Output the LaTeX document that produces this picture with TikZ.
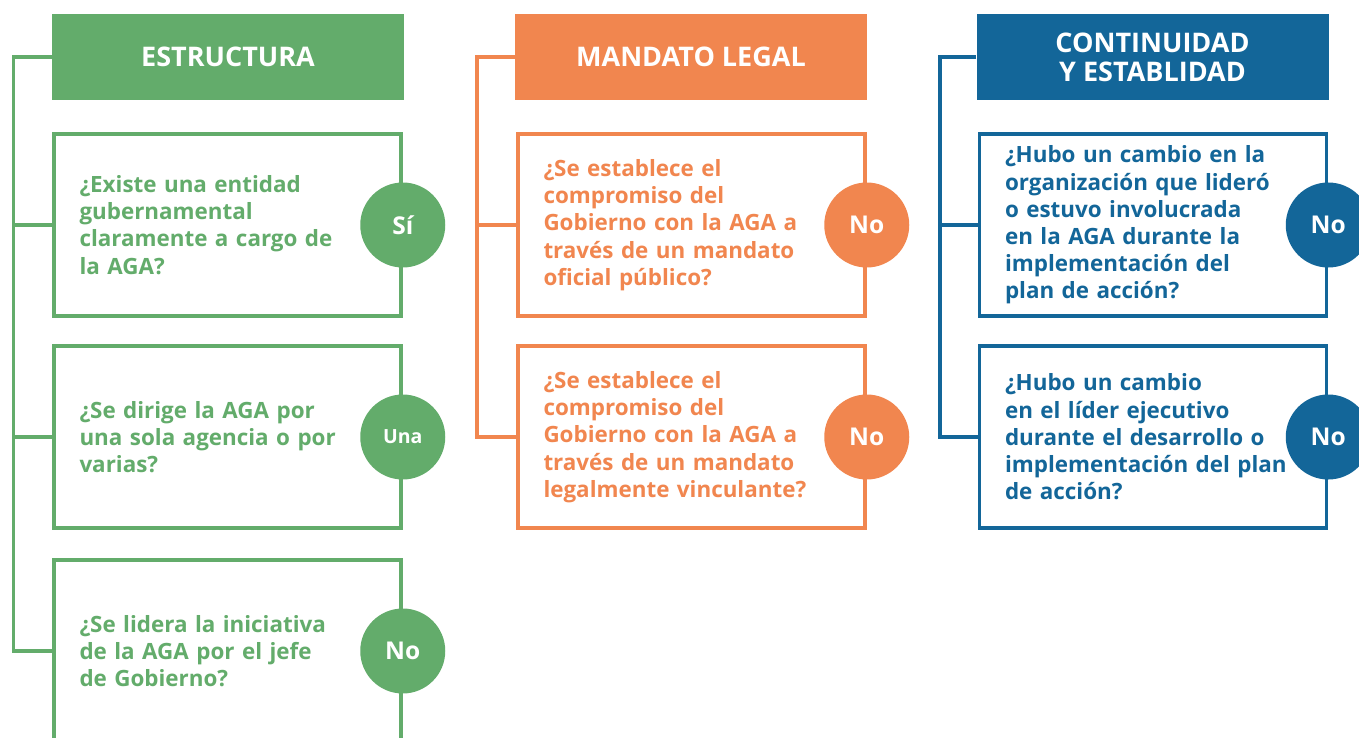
\documentclass[tikz,border=0pt]{standalone}
\usepackage{fontspec}
\setmainfont{Open Sans}
\usetikzlibrary{positioning}
\definecolor{aggreen}{RGB}{99,172,107}
\definecolor{agorange}{RGB}{241,134,79}
\definecolor{agblue}{RGB}{19,102,153}
\tikzset{%
  head/.style={fill=#1, text=white, minimum width=352, minimum height=86, inner sep=0,
    align=center, font=\bfseries\fontsize{27}{29}\selectfont},
  qbox/.style={draw=#1, line width=3.5, fill=white, text=#1, minimum width=347, minimum height=182,
    inner sep=0, text width=296, align=left, font=\bfseries\fontsize{22.4}{27.2}\selectfont},
  answer/.style={circle, fill=#1, text=white, minimum size=85, inner sep=0,
    font=\bfseries\fontsize{24.5}{26}\selectfont},
  trunk/.style={draw=#1, line width=3.5}
}
\begin{document}
\begin{tikzpicture}[x=1pt, y=-1pt]
    \useasboundingbox (0,0) rectangle (1359,738);
    \clip (0,0) rectangle (1359,738);

      % estructura
      \node[head=aggreen] (gt) at (228,57) {ESTRUCTURA};
      \node[qbox=aggreen] (g1) at (227.5,225) {¿Existe una entidad\\gubernamental\\claramente a cargo de\\la AGA?};
      \node[qbox=aggreen] (g2) at (227.5,437) {¿Se dirige la AGA por\\una sola agencia o por\\varias?};
      \node[qbox=aggreen] (g3) at (227.5,651) {¿Se lidera la iniciativa\\de la AGA por el jefe\\de Gobierno?};
      \coordinate (gk) at (13.5,57);
      \draw[trunk=aggreen] (gt.west) -- (gk) |- (g3.west);
      \draw[trunk=aggreen] (gk |- g1.west) -- (g1.west);
      \draw[trunk=aggreen] (gk |- g2.west) -- (g2.west);
      \node[answer=aggreen] (g1a) at (g1.east) {Sí};
      \node[answer=aggreen, font=\bfseries\fontsize{19.5}{21}\selectfont] (g2a) at (g2.east) {Una};
      \node[answer=aggreen] (g3a) at (g3.east) {No};

      % mandato legal
      \node[head=agorange] (ot) at (691,57) {MANDATO LEGAL};
      \node[qbox=agorange] (o1) at (691.5,225) {¿Se establece el\\compromiso del\\Gobierno con la AGA a\\través de un mandato\\oficial público?};
      \node[qbox=agorange] (o2) at (691.5,437) {¿Se establece el\\compromiso del\\Gobierno con la AGA a\\través de un mandato\\legalmente vinculante?};
      \coordinate (ok) at (477,57);
      \draw[trunk=agorange] (ot.west) -- (ok) |- (o2.west);
      \draw[trunk=agorange] (ok |- o1.west) -- (o1.west);
      \node[answer=agorange] (o1a) at (o1.east) {No};
      \node[answer=agorange] (o2a) at (o2.east) {No};

      % continuidad y establidad
      \node[head=agblue] (bt) at (1152.5,57) {CONTINUIDAD\\Y ESTABLIDAD};
      \node[qbox=agblue] (b1) at (1153,225) {¿Hubo un cambio en la\\organización que lideró\\o estuvo involucrada\\en la AGA durante la\\implementación del\\plan de acción?};
      \node[qbox=agblue] (b2) at (1153,437) {¿Hubo un cambio\\en el líder ejecutivo\\durante el desarrollo o\\implementación del plan\\de acción?};
      \coordinate (bk) at (940,57);
      \draw[trunk=agblue] (bt.west) -- (bk) |- (b2.west);
      \draw[trunk=agblue] (bk |- b1.west) -- (b1.west);
      \node[answer=agblue] (b1a) at (b1.east) {No};
      \node[answer=agblue] (b2a) at (b2.east) {No};

  \end{tikzpicture}
\end{document}
